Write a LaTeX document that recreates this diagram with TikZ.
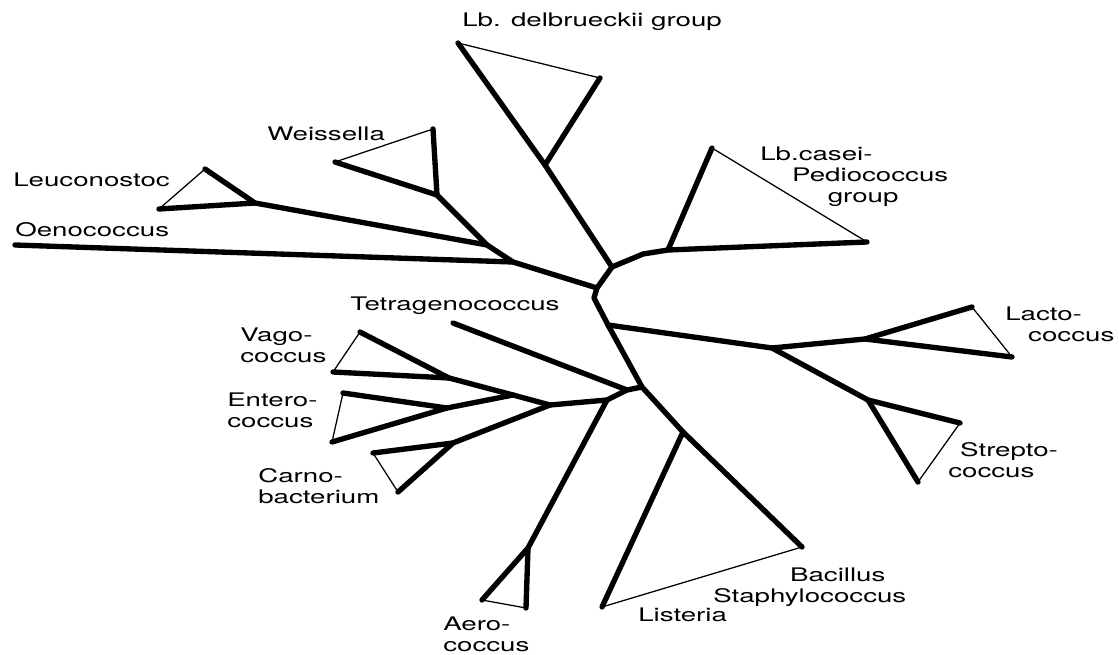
\documentclass[tikz,border=0pt]{standalone}
\usepackage{fontspec}
\setmainfont{TeX Gyre Heros}[FakeStretch=1.48]
\usepackage{tikz}
\tikzstyle{branch} = [line width=3.8pt, line join=round, line cap=round]
\tikzstyle{clade} = [line width=0.9pt, line cap=round]
\tikzstyle{taxon} = [inner sep=0pt, align=left, anchor=north west, font=\fontsize{13.3}{14.9}\selectfont]

\begin{document}
\begin{tikzpicture}[x=0.025cm, y=-0.025cm]
\useasboundingbox (0,0) rectangle (1119,655);
% backbone
\coordinate (DelTip) at (458,43);
\coordinate (DelJ) at (545,165);
\coordinate (DelSide) at (600,78);
\coordinate (Hub) at (612,267);
\coordinate (LeftJ) at (597,288);
\coordinate (Kink) at (594,298);
\coordinate (LactoStem) at (608,325);
\coordinate (LowJ) at (642,387);
\coordinate (ListJ) at (683,432);
\coordinate (BacTip) at (802,547);
\coordinate (ListTip) at (602,607);
% casei - pediococcus
\coordinate (CaseiBend) at (643,254);
\coordinate (CaseiJ) at (668,250);
\coordinate (CaseiTop) at (712,148);
\coordinate (CaseiEnd) at (867,242);
% oenococcus, leuconostoc, weissella
\coordinate (OenoJ) at (513,262);
\coordinate (OenoTip) at (15,245);
\coordinate (LeucWeisJ) at (487,245);
\coordinate (WeisJ) at (437,195);
\coordinate (WeisTop) at (433,129);
\coordinate (WeisLeft) at (335,162);
\coordinate (LeucJ) at (255,203);
\coordinate (LeucTop) at (205,169);
\coordinate (LeucLeft) at (159,209);
% lactococcus, streptococcus
\coordinate (StrepLactoJ) at (772,348);
\coordinate (LactoJ) at (865,339);
\coordinate (LactoTop) at (972,307);
\coordinate (LactoEnd) at (1012,357);
\coordinate (StrepJ) at (868,400);
\coordinate (StrepEnd) at (960,423);
\coordinate (StrepTip) at (918,482);
% tetragenococcus, aerococcus, vago/entero/carno
\coordinate (TetraJ) at (627,390);
\coordinate (TetraTip) at (453,323);
\coordinate (AeroStem) at (607,400);
\coordinate (AeroJ) at (528,548);
\coordinate (AeroLeft) at (482,600);
\coordinate (AeroBot) at (526,608);
\coordinate (EntCarnJ) at (550,405);
\coordinate (VagoEntJ) at (513,395);
\coordinate (VagoJ) at (449,378);
\coordinate (VagoTop) at (360,332);
\coordinate (VagoLeft) at (333,372);
\coordinate (EntJ) at (447,408);
\coordinate (EntTop) at (343,393);
\coordinate (EntBot) at (332,442);
\coordinate (CarnJ) at (453,443);
\coordinate (CarnTip) at (398,492);
\coordinate (CarnLeft) at (373,453);

\draw [branch] (DelTip) -- (DelJ) -- (Hub) -- (LeftJ) -- (Kink) -- (LactoStem) -- (LowJ) -- (ListJ) -- (BacTip);
\draw [branch] (DelJ) -- (DelSide);
\draw [clade] (DelTip) -- (DelSide);
\draw [branch] (Hub) -- (CaseiBend) -- (CaseiJ) -- (CaseiEnd);
\draw [branch] (CaseiJ) -- (CaseiTop);
\draw [clade] (CaseiTop) -- (CaseiEnd);

\draw [branch] (LeftJ) -- (OenoJ) -- (OenoTip);
\draw [branch] (OenoJ) -- (LeucWeisJ) -- (WeisJ) -- (WeisTop);
\draw [branch] (WeisJ) -- (WeisLeft);
\draw [clade] (WeisLeft) -- (WeisTop);
\draw [branch] (LeucWeisJ) -- (LeucJ) -- (LeucTop);
\draw [branch] (LeucJ) -- (LeucLeft);
\draw [clade] (LeucLeft) -- (LeucTop);

\draw [branch] (LactoStem) -- (StrepLactoJ) -- (LactoJ) -- (LactoTop);
\draw [branch] (LactoJ) -- (LactoEnd);
\draw [clade] (LactoTop) -- (LactoEnd);
\draw [branch] (StrepLactoJ) -- (StrepJ) -- (StrepEnd);
\draw [branch] (StrepJ) -- (StrepTip);
\draw [clade] (StrepEnd) -- (StrepTip);

\draw [branch] (ListJ) -- (ListTip);
\draw [clade] (ListTip) -- (BacTip);

\draw [branch] (LowJ) -- (TetraJ) -- (TetraTip);
\draw [branch] (TetraJ) -- (AeroStem) -- (EntCarnJ) -- (VagoEntJ) -- (VagoJ) -- (VagoTop);
\draw [branch] (VagoJ) -- (VagoLeft);
\draw [clade] (VagoLeft) -- (VagoTop);
\draw [branch] (VagoEntJ) -- (EntJ) -- (EntBot);
\draw [branch] (EntJ) -- (EntTop);
\draw [clade] (EntTop) -- (EntBot);
\draw [branch] (EntCarnJ) -- (CarnJ) -- (CarnTip);
\draw [branch] (CarnJ) -- (CarnLeft);
\draw [clade] (CarnLeft) -- (CarnTip);
\draw [branch] (AeroStem) -- (AeroJ) -- (AeroLeft);
\draw [branch] (AeroJ) -- (AeroBot);
\draw [clade] (AeroLeft) -- (AeroBot);

% labels
\node (DelLabel) [taxon] at (462,13) {Lb. delbrueckii group};
\node (CaseiLabel) [taxon] at (760,147) {Lb.casei-\\\hspace*{22.7pt}Pediococcus\\\hspace*{48pt}group};
\node (WeisLabel) [taxon] at (267,127) {Weissella};
\node (LeucLabel) [taxon] at (13,173) {Leuconostoc};
\node (OenoLabel) [taxon] at (15,222) {Oenococcus};
\node (TetraLabel) [taxon] at (350,297) {Tetragenococcus};
\node (VagoLabel) [taxon] at (240,328) {Vago-\\coccus};
\node (EntLabel) [taxon] at (227,393) {Entero-\\coccus};
\node (CarnLabel) [taxon] at (258,468) {Carno-\\bacterium};
\node (AeroLabel) [taxon] at (443,617) {Aero-\\coccus};
\node (ListLabel) [taxon] at (638,608) {Listeria};
\node (BacLabel) [taxon] at (713,568) {\hspace*{54.6pt}Bacillus\\Staphylococcus};
\node (LactoLabel) [taxon] at (1005,307) {Lacto-\\\hspace*{16.3pt}coccus};
\node (StrepLabel) [taxon] at (948,442) {\hspace*{8.5pt}Strepto-\\coccus};
\end{tikzpicture}
\end{document}
